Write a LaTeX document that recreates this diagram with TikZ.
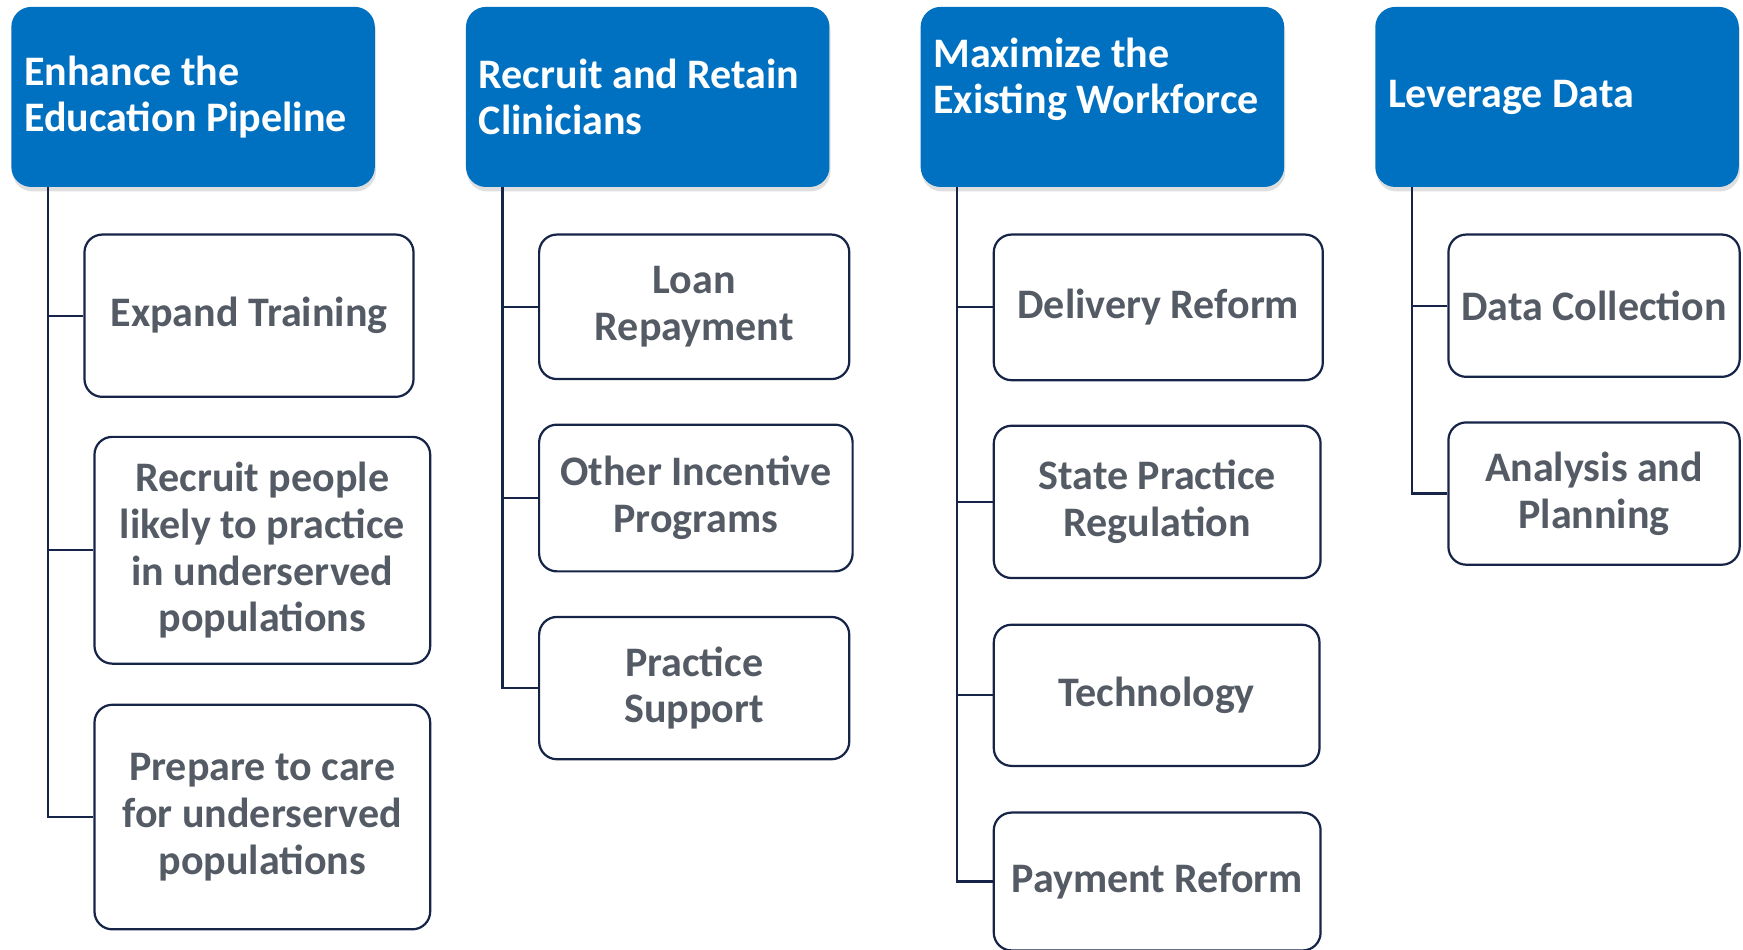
\documentclass[tikz,border=0pt]{standalone}
\usepackage{fontspec}
\setmainfont{Carlito}
\usetikzlibrary{positioning,shadows}

\definecolor{headblue}{RGB}{0,112,192}
\definecolor{boxline}{RGB}{22,36,72}
\definecolor{subtext}{RGB}{84,91,101}

\begin{document}
\begin{tikzpicture}[x=1pt,y=1pt,
		head/.style={rectangle, rounded corners=18pt, fill=headblue, anchor=north west,
			minimum width=327pt, minimum height=162pt, text width=304pt, inner xsep=11.5pt,
			align=flush left, text=white, font=\fontsize{37.8}{42}\selectfont\bfseries,
			drop shadow={shadow xshift=1pt, shadow yshift=-4pt, opacity=0.25}},
		sub/.style={rectangle, rounded corners=16pt, draw=boxline, line width=2pt, fill=white,
			anchor=north west, align=center, text=subtext, font=\fontsize{37.8}{42}\selectfont\bfseries},
		link/.style={draw=boxline, line width=2pt}]
		\useasboundingbox (0,0) rectangle (1568,-854.6);
		
		% top row
		\node[head]	(enh)	at (10,-6)		{Enhance the\\Education Pipeline};
		\node[head]	(rec)	at (419,-6)		{Recruit and Retain\\Clinicians};
		\node[head]	(max)	at (828,-6)		{Maximize the\\Existing Workforce\\[-4pt]~};
		\node[head]	(lev)	at (1237,-6)	{Leverage Data};
		
		% education pipeline
		\node[sub, minimum width=296, minimum height=146]	(expand)	at (75,-210)	{Expand Training};
		\node[sub, minimum width=302, minimum height=204]	(recruit)	at (84,-392)	{Recruit people\\likely to practice\\in underserved\\populations};
		\node[sub, minimum width=302, minimum height=202]	(prepare)	at (84,-633)	{Prepare to care\\for underserved\\populations};
		
		% recruit and retain
		\node[sub, minimum width=279, minimum height=130]	(loan)		at (484,-210)	{Loan\\Repayment};
		\node[sub, minimum width=282, minimum height=132]	(incent)	at (484,-381)	{Other Incentive\\Programs};
		\node[sub, minimum width=279, minimum height=128]	(support)	at (484,-554)	{Practice\\Support};
		
		% existing workforce
		\node[sub, minimum width=296, minimum height=131]	(deliv)		at (893,-210)	{Delivery Reform};
		\node[sub, minimum width=294, minimum height=137]	(regul)		at (893,-382)	{State Practice\\Regulation};
		\node[sub, minimum width=293, minimum height=127]	(tech)		at (893,-561)	{Technology};
		\node[sub, minimum width=294, minimum height=124]	(pay)		at (893,-730)	{Payment Reform};
		
		% data
		\node[sub, minimum width=262, minimum height=128]	(collect)	at (1302,-210)	{Data Collection};
		\node[sub, minimum width=262, minimum height=128]	(plan)		at (1302,-379)	{Analysis and\\Planning};
		
		% trunks
		\coordinate (enht) at ([xshift=33]enh.south west);
		\coordinate (rect) at ([xshift=33]rec.south west);
		\coordinate (maxt) at ([xshift=33]max.south west);
		\coordinate (levt) at ([xshift=33]lev.south west);
		
		\foreach \c in {expand,recruit,prepare}	\draw[link] (enht) |- (\c.west);
		\foreach \c in {loan,incent,support}	\draw[link] (rect) |- (\c.west);
		\foreach \c in {deliv,regul,tech,pay}	\draw[link] (maxt) |- (\c.west);
		\foreach \c in {collect,plan}			\draw[link] (levt) |- (\c.west);
	\end{tikzpicture}
\end{document}
